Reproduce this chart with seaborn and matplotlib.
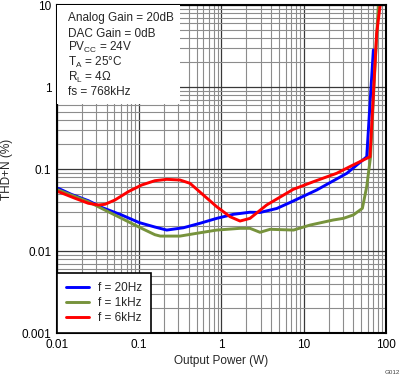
import numpy as np
import pandas as pd
import seaborn as sns
import matplotlib.pyplot as plt
from matplotlib.patches import Rectangle
from matplotlib.ticker import LogLocator, NullFormatter, FixedFormatter, FixedLocator

# THD+N vs output power
power_20hz = [0.0104, 0.015, 0.024, 0.035, 0.061, 0.1, 0.155, 0.216, 0.344, 0.55, 0.874, 1.39, 2.22, 2.94,
              4.7, 6.8, 14.4, 33.4, 58.3, 70.2]
thd_20hz = [0.058, 0.049, 0.0411, 0.034, 0.0275, 0.0222, 0.0196, 0.018, 0.0192, 0.0218, 0.025, 0.028, 0.0297,
            0.0295, 0.033, 0.039, 0.0555, 0.0886, 0.141, 2.83]

power_1khz = [0.0104, 0.015, 0.024, 0.035, 0.061, 0.1, 0.155, 0.18, 0.313, 0.55, 0.874, 1.68, 2.22, 2.94, 3.9,
              7.5, 11.9, 22.9, 30.3, 40, 51.6, 58.3, 64.9, 73.5, 80.7]
thd_1khz = [0.0555, 0.048, 0.040, 0.033, 0.025, 0.0195, 0.0158, 0.0152, 0.0152, 0.0167, 0.018, 0.0189, 0.0189,
            0.0169, 0.0184, 0.018, 0.0207, 0.0239, 0.025, 0.0275, 0.0331, 0.061, 0.141, 1.78, 10]

power_6khz = [0.0104, 0.0166, 0.024, 0.0318, 0.0383, 0.0507, 0.0736, 0.107, 0.155, 0.216, 0.313, 0.414, 0.601,
              0.874, 1.27, 1.68, 2.22, 3.54, 7.46, 13.1, 25.1, 39.9, 63.9, 77, 85]
thd_6khz = [0.0529, 0.0439, 0.0382, 0.0364, 0.0371, 0.0419, 0.0529, 0.0638, 0.072, 0.0748, 0.0734, 0.0669,
            0.0482, 0.0347, 0.0262, 0.0232, 0.025, 0.0364, 0.0565, 0.07, 0.0886, 0.112, 0.141, 4.5, 10]

series_labels = ["f = 20Hz", "f = 1kHz", "f = 6kHz"]
series_colors = ["#0000FF", "#77933C", "#FF0000"]

x_ticks = [0.01, 0.1, 1, 10, 100]
x_tick_labels = ["0.01", "0.1", "1", "10", "100"]
y_ticks = [0.001, 0.01, 0.1, 1, 10]
y_tick_labels = ["0.001", "0.01", "0.1", "1", "10"]

conditions = ["Analog Gain = 20dB", "DAC Gain = 0dB", r"PV$_{\mathregular{CC}}$ = 24V",
              r"T$_{\mathregular{A}}$ = 25°C", r"R$_{\mathregular{L}}$ = 4Ω", "fs = 768kHz"]

df = pd.concat([
    pd.DataFrame({"power": power_20hz, "thd": thd_20hz, "series": series_labels[0]}),
    pd.DataFrame({"power": power_1khz, "thd": thd_1khz, "series": series_labels[1]}),
    pd.DataFrame({"power": power_6khz, "thd": thd_6khz, "series": series_labels[2]}),
])

sns.set_style("white")
plt.rcParams["font.family"] = ["Liberation Sans", "DejaVu Sans"]
plt.rcParams["mathtext.fontset"] = "custom"
plt.rcParams["mathtext.rm"] = "Liberation Sans"

fig = plt.figure(figsize=(4.02, 3.77), dpi=100)
ax = fig.add_axes([57 / 402, 1 - 333 / 377, 329 / 402, 328 / 377])

sns.lineplot(data=df, x="power", y="thd", hue="series", hue_order=series_labels,
             palette=series_colors, linewidth=2.1, sort=False, estimator=None, ax=ax)

ax.set_xscale("log")
ax.set_yscale("log")
ax.set_xlim(0.01, 100)
ax.set_ylim(0.001, 10)

ax.xaxis.set_major_locator(FixedLocator(x_ticks))
ax.xaxis.set_major_formatter(FixedFormatter(x_tick_labels))
ax.yaxis.set_major_locator(FixedLocator(y_ticks))
ax.yaxis.set_major_formatter(FixedFormatter(y_tick_labels))
for axis in (ax.xaxis, ax.yaxis):
    axis.set_minor_locator(LogLocator(base=10, subs=np.arange(2, 10), numticks=20))
    axis.set_minor_formatter(NullFormatter())

ax.grid(which="major", color="#383838", linewidth=0.9)
ax.grid(which="minor", color="#8c8c8c", linewidth=0.8)
ax.set_axisbelow(True)
ax.tick_params(which="both", length=0, labelsize=8.5, colors="black", pad=4)

for sp in ax.spines.values():
    sp.set_color("black")
    sp.set_linewidth(1.5)

ax.set_xlabel("Output Power (W)", fontsize=8.5, labelpad=3)
ax.set_ylabel("THD+N (%)", fontsize=8.5, labelpad=6)

# condition box in the top-left corner
ax.add_patch(Rectangle((0, (333 - 104) / 328), (180 - 57) / 329, 1 - (333 - 104) / 328,
                       transform=ax.transAxes, facecolor="white", edgecolor="none", zorder=3))
for text, py in zip(conditions, [18, 34, 47, 62, 77, 92]):
    ax.text((68 - 57) / 329, (333 - py) / 328, text, transform=ax.transAxes,
            fontsize=8.5, va="center", ha="left", zorder=4)

handles, labels = ax.get_legend_handles_labels()
leg = ax.legend(handles, labels, loc="lower left", borderaxespad=0, fancybox=False,
                framealpha=1, edgecolor="black", fontsize=8.5, handlelength=2.0,
                borderpad=0.75, labelspacing=0.25, handletextpad=0.75)
leg.get_frame().set_linewidth(1.2)
leg.set_zorder(5)

fig.text(392 / 402, 1 - 372 / 377, "G012", fontsize=4.5, ha="center", va="center", color="#404040")

fig.savefig("out.png", dpi=100)
